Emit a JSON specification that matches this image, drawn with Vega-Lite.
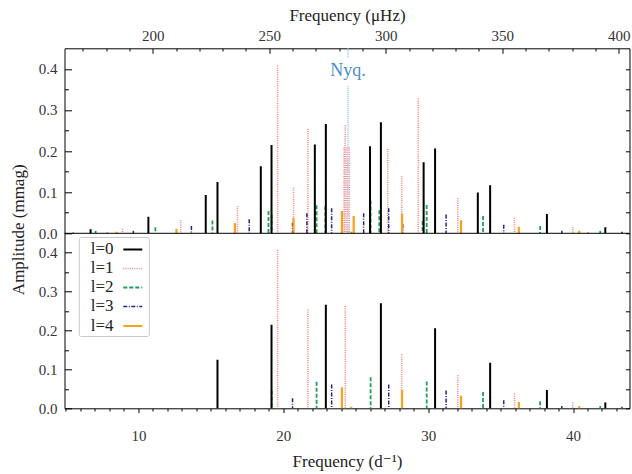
{
  "$schema": "https://vega.github.io/schema/vega-lite/v6.json",
  "background": "white",
  "padding": {"left": 9.5, "top": 6.3, "right": 3, "bottom": 5},
  "width": 565,
  "height": 360,
  "datasets": {
    "modes": [
      {"f": 7.86, "a": 0.003, "l": "1", "b": 0},
      {"f": 8.91, "a": 0.011, "l": "1", "b": 0},
      {"f": 12.92, "a": 0.032, "l": "1", "b": 0},
      {"f": 16.84, "a": 0.066, "l": "1", "b": 0},
      {"f": 19.61, "a": 0.408, "l": "1", "b": 1},
      {"f": 20.71, "a": 0.111, "l": "1", "b": 0},
      {"f": 21.70, "a": 0.254, "l": "1", "b": 1},
      {"f": 24.20, "a": 0.209, "l": "1", "b": 0},
      {"f": 24.28, "a": 0.263, "l": "1", "b": 1},
      {"f": 24.40, "a": 0.209, "l": "1", "b": 0},
      {"f": 24.56, "a": 0.209, "l": "1", "b": 0},
      {"f": 27.21, "a": 0.205, "l": "1", "b": 0},
      {"f": 28.18, "a": 0.139, "l": "1", "b": 1},
      {"f": 29.32, "a": 0.328, "l": "1", "b": 0},
      {"f": 32.05, "a": 0.085, "l": "1", "b": 1},
      {"f": 35.96, "a": 0.038, "l": "1", "b": 1},
      {"f": 39.99, "a": 0.015, "l": "1", "b": 1},
      {"f": 41.03, "a": 0.003, "l": "1", "b": 0},
      {"f": 5.50, "a": 0.002, "l": "3", "b": 0},
      {"f": 9.65, "a": 0.006, "l": "3", "b": 0},
      {"f": 13.66, "a": 0.018, "l": "3", "b": 0},
      {"f": 17.65, "a": 0.034, "l": "3", "b": 0},
      {"f": 20.64, "a": 0.026, "l": "3", "b": 1},
      {"f": 21.63, "a": 0.049, "l": "3", "b": 0},
      {"f": 23.34, "a": 0.061, "l": "3", "b": 1},
      {"f": 25.55, "a": 0.049, "l": "3", "b": 0},
      {"f": 27.28, "a": 0.061, "l": "3", "b": 1},
      {"f": 28.25, "a": 0.022, "l": "3", "b": 0},
      {"f": 31.24, "a": 0.046, "l": "3", "b": 1},
      {"f": 35.22, "a": 0.021, "l": "3", "b": 1},
      {"f": 39.23, "a": 0.006, "l": "3", "b": 1},
      {"f": 43.38, "a": 0.004, "l": "3", "b": 1},
      {"f": 7.05, "a": 0.006, "l": "2", "b": 0},
      {"f": 11.17, "a": 0.015, "l": "2", "b": 0},
      {"f": 15.11, "a": 0.031, "l": "2", "b": 0},
      {"f": 18.98, "a": 0.054, "l": "2", "b": 0},
      {"f": 19.20, "a": 0.045, "l": "2", "b": 1},
      {"f": 22.30, "a": 0.068, "l": "2", "b": 1},
      {"f": 22.90, "a": 0.066, "l": "2", "b": 0},
      {"f": 26.03, "a": 0.080, "l": "2", "b": 1},
      {"f": 26.63, "a": 0.056, "l": "2", "b": 0},
      {"f": 29.62, "a": 0.030, "l": "2", "b": 0},
      {"f": 29.90, "a": 0.069, "l": "2", "b": 1},
      {"f": 33.79, "a": 0.042, "l": "2", "b": 1},
      {"f": 37.73, "a": 0.018, "l": "2", "b": 1},
      {"f": 41.88, "a": 0.006, "l": "2", "b": 1},
      {"f": 6.70, "a": 0.010, "l": "0", "b": 0},
      {"f": 10.69, "a": 0.040, "l": "0", "b": 0},
      {"f": 14.65, "a": 0.093, "l": "0", "b": 0},
      {"f": 15.46, "a": 0.125, "l": "0", "b": 1},
      {"f": 18.45, "a": 0.163, "l": "0", "b": 0},
      {"f": 19.19, "a": 0.215, "l": "0", "b": 1},
      {"f": 22.18, "a": 0.216, "l": "0", "b": 0},
      {"f": 22.94, "a": 0.266, "l": "0", "b": 1},
      {"f": 25.99, "a": 0.212, "l": "0", "b": 0},
      {"f": 26.74, "a": 0.270, "l": "0", "b": 1},
      {"f": 29.69, "a": 0.173, "l": "0", "b": 0},
      {"f": 30.48, "a": 0.206, "l": "0", "b": 1},
      {"f": 33.43, "a": 0.099, "l": "0", "b": 0},
      {"f": 34.28, "a": 0.117, "l": "0", "b": 1},
      {"f": 38.20, "a": 0.047, "l": "0", "b": 1},
      {"f": 42.23, "a": 0.015, "l": "0", "b": 1},
      {"f": 8.50, "a": 0.004, "l": "4", "b": 0},
      {"f": 12.63, "a": 0.011, "l": "4", "b": 0},
      {"f": 16.66, "a": 0.025, "l": "4", "b": 0},
      {"f": 20.71, "a": 0.038, "l": "4", "b": 0},
      {"f": 24.05, "a": 0.054, "l": "4", "b": 1},
      {"f": 24.69, "a": 0.004, "l": "4", "b": 1},
      {"f": 24.86, "a": 0.042, "l": "4", "b": 0},
      {"f": 28.20, "a": 0.048, "l": "4", "b": 1},
      {"f": 32.27, "a": 0.032, "l": "4", "b": 1},
      {"f": 36.26, "a": 0.016, "l": "4", "b": 1},
      {"f": 40.43, "a": 0.006, "l": "4", "b": 1}
    ],
    "nyq": [{"y": 0, "y2": 0.3575}, {"y": 0.428, "y2": 0.45}],
    "uhz": [{"u": 200, "v": 0.1}, {"u": 400, "v": 0.1}]
  },
  "layer": [
    {
      "data": {"name": "modes"},
      "mark": {"type": "rule"},
      "encoding": {
        "x": {"field": "f", "type": "quantitative", "scale": {"domain": [4.9, 43.9], "nice": false, "zero": false}, "axis": null},
        "y": {"field": "a", "type": "quantitative", "scale": {"domain": [-0.425676, 0.45], "nice": false, "zero": false},
          "axis": {"orient": "left", "values": [0, 0.1, 0.2, 0.3, 0.4], "format": ".1f", "tickSize": -7, "labelPadding": 14.6,
            "title": "Amplitude (mmag)", "titleX": -46, "titleY": 181, "titleAngle": -90, "titleAlign": "center", "titleBaseline": "middle"}},
        "y2": {"datum": 0},
        "color": {"field": "l", "type": "nominal", "scale": {"domain": ["0", "1", "2", "3", "4"], "range": ["#000000", "#f28686", "#1f9e5a", "#24248c", "#f6a31a"]}, "legend": null},
        "strokeDash": {"field": "l", "type": "nominal", "scale": {"domain": ["0", "1", "2", "3", "4"], "range": [[1, 0], [1, 1.2], [4, 2], [4, 1.5, 1, 1.5], [1, 0]]}, "legend": null},
        "strokeWidth": {"field": "l", "type": "nominal", "scale": {"type": "ordinal", "domain": ["0", "1", "2", "3", "4"], "range": [2, 1.6, 1.8, 1.5, 2.2]}, "legend": null}
      }
    },
    {
      "data": {"name": "modes"},
      "mark": {"type": "point", "opacity": 0},
      "encoding": {
        "x": {"field": "f", "type": "quantitative", "scale": {"domain": [4.9, 43.9], "nice": false, "zero": false}, "axis": null},
        "y": {"field": "a", "type": "quantitative", "scale": {"domain": [-0.425676, 0.45], "nice": false, "zero": false},
          "axis": {"orient": "left", "values": [0.05, 0.15, 0.25, 0.35], "tickSize": -4, "labels": false, "title": null}}
      }
    },
    {
      "data": {"name": "modes"},
      "mark": {"type": "point", "opacity": 0},
      "encoding": {
        "x": {"field": "f", "type": "quantitative", "scale": {"domain": [4.9, 43.9], "nice": false, "zero": false}, "axis": null},
        "y": {"field": "a", "type": "quantitative", "scale": {"domain": [-0.425676, 0.45], "nice": false, "zero": false},
          "axis": {"orient": "right", "values": [0, 0.05, 0.1, 0.15, 0.2, 0.25, 0.3, 0.35, 0.4], "tickSize": -4, "labels": false, "title": null}}
      }
    },
    {
      "data": {"name": "nyq"},
      "mark": {"type": "rule", "color": "#9cc4e6", "strokeDash": [1, 1], "strokeWidth": 1.5},
      "encoding": {
        "x": {"datum": 24.47, "type": "quantitative", "scale": {"domain": [4.9, 43.9], "nice": false, "zero": false}, "axis": null},
        "y": {"field": "y", "type": "quantitative", "scale": {"domain": [-0.425676, 0.45], "nice": false, "zero": false}, "axis": null},
        "y2": {"field": "y2"}
      }
    },
    {
      "data": {"values": [{"t": "Nyq."}]},
      "mark": {"type": "text", "font": "Liberation Serif, DejaVu Serif, serif", "fontSize": 18, "color": "#4a8ecb", "align": "center", "baseline": "alphabetic"},
      "encoding": {
        "x": {"datum": 24.47, "type": "quantitative", "scale": {"domain": [4.9, 43.9], "nice": false, "zero": false}, "axis": null},
        "y": {"datum": 0.382, "type": "quantitative", "scale": {"domain": [-0.425676, 0.45], "nice": false, "zero": false}, "axis": null},
        "text": {"field": "t"}
      }
    },
    {
      "data": {"values": [{"s": 0}]},
      "mark": {"type": "rule", "color": "#000000", "strokeWidth": 1},
      "encoding": {
        "y": {"field": "s", "type": "quantitative", "scale": {"domain": [-0.425676, 0.45], "nice": false, "zero": false}, "axis": null}
      }
    },
    {
      "data": {"name": "modes"},
      "transform": [{"filter": "datum.b == 1"}],
      "mark": {"type": "rule"},
      "encoding": {
        "x": {"field": "f", "type": "quantitative", "scale": {"domain": [4.9, 43.9], "nice": false, "zero": false},
          "axis": {"orient": "bottom", "values": [10, 20, 30, 40], "tickSize": 4.3, "labelPadding": 16, "labelFlush": false,
            "title": "Frequency (d⁻¹)", "titlePadding": 10}},
        "y": {"field": "a", "type": "quantitative", "scale": {"domain": [0, 0.925714], "nice": false, "zero": false},
          "axis": {"orient": "left", "values": [0, 0.1, 0.2, 0.3, 0.4], "format": ".1f", "tickSize": -7, "labelPadding": 14.6, "title": null}},
        "y2": {"datum": 0},
        "color": {"field": "l", "type": "nominal", "scale": {"domain": ["0", "1", "2", "3", "4"], "range": ["#000000", "#f28686", "#1f9e5a", "#24248c", "#f6a31a"]},
          "legend": {"title": null, "orient": "none", "legendX": 14.3, "legendY": 188.7, "symbolType": "stroke", "symbolSize": 361, "symbolOpacity": 1,
            "labelExpr": "'l=' + datum.label", "labelFont": "Liberation Serif, DejaVu Serif, serif", "labelFontSize": 17, "labelColor": "#222",
            "fillColor": "white", "strokeColor": "#c8c8c8", "padding": 2, "rowPadding": 0, "labelOffset": -53, "symbolOffset": 41, "cornerRadius": 2}},
        "strokeDash": {"field": "l", "type": "nominal", "scale": {"domain": ["0", "1", "2", "3", "4"], "range": [[1, 0], [1, 1.2], [4, 2], [4, 1.5, 1, 1.5], [1, 0]]}},
        "strokeWidth": {"field": "l", "type": "nominal", "scale": {"type": "ordinal", "domain": ["0", "1", "2", "3", "4"], "range": [2, 1.6, 1.8, 1.5, 2.2]}}
      }
    },
    {
      "data": {"name": "modes"},
      "mark": {"type": "point", "opacity": 0},
      "encoding": {
        "x": {"field": "f", "type": "quantitative", "scale": {"domain": [4.9, 43.9], "nice": false, "zero": false},
          "axis": {"orient": "bottom", "values": [5, 6, 7, 8, 9, 11, 12, 13, 14, 15, 16, 17, 18, 19, 21, 22, 23, 24, 25, 26, 27, 28, 29, 31, 32, 33, 34, 35, 36, 37, 38, 39, 41, 42, 43], "tickSize": 2.7, "labels": false, "title": null}},
        "y": {"field": "a", "type": "quantitative", "scale": {"domain": [0, 0.925714], "nice": false, "zero": false},
          "axis": {"orient": "left", "values": [0.05, 0.15, 0.25, 0.35], "tickSize": -4, "labels": false, "title": null}}
      }
    },
    {
      "data": {"name": "modes"},
      "mark": {"type": "point", "opacity": 0},
      "encoding": {
        "x": {"field": "f", "type": "quantitative", "scale": {"domain": [4.9, 43.9], "nice": false, "zero": false}, "axis": null},
        "y": {"field": "a", "type": "quantitative", "scale": {"domain": [0, 0.925714], "nice": false, "zero": false},
          "axis": {"orient": "right", "values": [0, 0.05, 0.1, 0.15, 0.2, 0.25, 0.3, 0.35, 0.4], "tickSize": -4, "labels": false, "title": null}}
      }
    },
    {
      "data": {"name": "uhz"},
      "mark": {"type": "point", "opacity": 0},
      "encoding": {
        "x": {"field": "u", "type": "quantitative", "scale": {"domain": [162.1, 404.6], "nice": false, "zero": false},
          "axis": {"orient": "top", "values": [200, 250, 300, 350, 400], "tickSize": -5, "labelPadding": 10, "labelFlush": false,
            "title": "Frequency (μHz)", "titlePadding": 4}},
        "y": {"field": "v", "type": "quantitative", "scale": {"domain": [0, 1]}, "axis": null}
      }
    },
    {
      "data": {"name": "uhz"},
      "mark": {"type": "point", "opacity": 0},
      "encoding": {
        "x": {"field": "u", "type": "quantitative", "scale": {"domain": [162.1, 404.6], "nice": false, "zero": false},
          "axis": {"orient": "top", "values": [170, 180, 190, 210, 220, 230, 240, 260, 270, 280, 290, 310, 320, 330, 340, 360, 370, 380, 390], "tickSize": -2.7, "labels": false, "title": null}},
        "y": {"field": "v", "type": "quantitative", "scale": {"domain": [0, 1]}, "axis": null}
      }
    }
  ],
  "resolve": {"scale": {"x": "independent", "y": "independent", "color": "independent", "strokeDash": "independent", "strokeWidth": "independent"}},
  "config": {
    "font": "Liberation Serif, DejaVu Serif, serif",
    "view": {"stroke": "#000000", "strokeWidth": 1},
    "axis": {"labelFont": "Liberation Serif, DejaVu Serif, serif", "titleFont": "Liberation Serif, DejaVu Serif, serif", "labelFontSize": 15, "titleFontSize": 17,
      "labelColor": "#333333", "titleColor": "#222222", "titleFontWeight": "normal", "grid": false, "domain": false,
      "tickColor": "#000000", "tickWidth": 1}
  }
}
